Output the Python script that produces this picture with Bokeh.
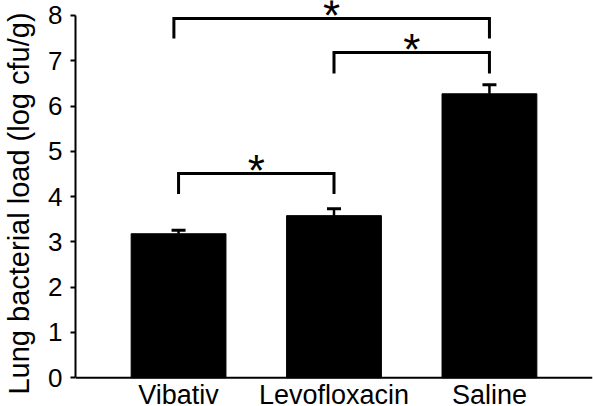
from bokeh.plotting import figure
from bokeh.models import ColumnDataSource, FixedTicker, Range1d, Span
from bokeh.embed import file_html
from bokeh.resources import INLINE
from bokeh.core.properties import value

# ---- data ----
categories = ["Vibativ", "Levofloxacin", "Saline"]
means = [3.18, 3.58, 6.27]
errors = [0.08, 0.15, 0.20]
y_ticks = [0, 1, 2, 3, 4, 5, 6, 7, 8]

# significance brackets (category positions and heights)
br_left = [0.0, 1.0, -0.03]
br_right = [1.0, 2.0, 2.0]
br_top = [4.51, 7.18, 7.93]
br_bottom = [4.06, 6.72, 7.49]
br_mark = ["*", "*", "*"]

FONT = "Liberation Sans"

xpos = list(range(len(categories)))
upper = [m + e for m, e in zip(means, errors)]

p = figure(width=593, height=406, output_backend="svg", toolbar_location=None,
           x_range=Range1d(-0.663, 2.663), y_range=Range1d(-0.634, 8.33),
           x_axis_location=None,
           min_border_left=73, min_border_right=1, min_border_top=0, min_border_bottom=0)
p.outline_line_color = None
p.xgrid.visible = False
p.ygrid.visible = False
p.background_fill_color = "white"
p.border_fill_color = "white"

src = ColumnDataSource(dict(x=xpos, top=means, upper=upper,
                            cl=[x - 0.045 for x in xpos], cr=[x + 0.045 for x in xpos],
                            label=categories, zero=[0] * len(xpos)))
p.vbar(x="x", top="top", bottom=0, width=0.61, source=src,
       fill_color="black", line_color="black")
p.segment(x0="x", y0="top", x1="x", y1="upper", source=src, line_color="black", line_width=2.5)
p.segment(x0="cl", y0="upper", x1="cr", y1="upper", source=src, line_color="black", line_width=3)

# x axis baseline
p.add_layout(Span(location=0, dimension="width", line_color="black", line_width=2))

# category names under the axis
p.text(x="x", y="zero", text="label", source=src, y_offset=17,
       text_font=value(FONT), text_font_size="27px", text_align="center",
       text_baseline="middle", text_color="black")

bxs = [[l, l, r, r] for l, r in zip(br_left, br_right)]
bys = [[b, t, t, b] for b, t in zip(br_bottom, br_top)]
p.multi_line(xs=bxs, ys=bys, line_color="black", line_width=3, line_join="miter")
p.text(x=[(l + r) / 2 for l, r in zip(br_left, br_right)], y=br_top, text=br_mark,
       text_font=value(FONT), text_font_size="44px", text_align="center",
       text_baseline="middle", y_offset=-3, text_color="black")

# y axis
ya = p.yaxis[0]
ya.ticker = FixedTicker(ticks=y_ticks)
ya.bounds = (0, 8)
ya.axis_label = "Lung bacterial load (log cfu/g)"
ya.axis_label_text_font = FONT
ya.axis_label_text_font_size = "29px"
ya.axis_label_text_font_style = "normal"
ya.axis_label_text_color = "black"
ya.axis_label_standoff = 10
ya.major_label_text_font = FONT
ya.major_label_text_font_size = "26px"
ya.major_label_text_color = "black"
ya.major_label_standoff = 8
ya.axis_line_width = 2
ya.major_tick_line_width = 2
ya.major_tick_out = 5
ya.major_tick_in = 0
ya.minor_tick_line_color = None

open("out.html", "w").write(file_html(p, INLINE))
